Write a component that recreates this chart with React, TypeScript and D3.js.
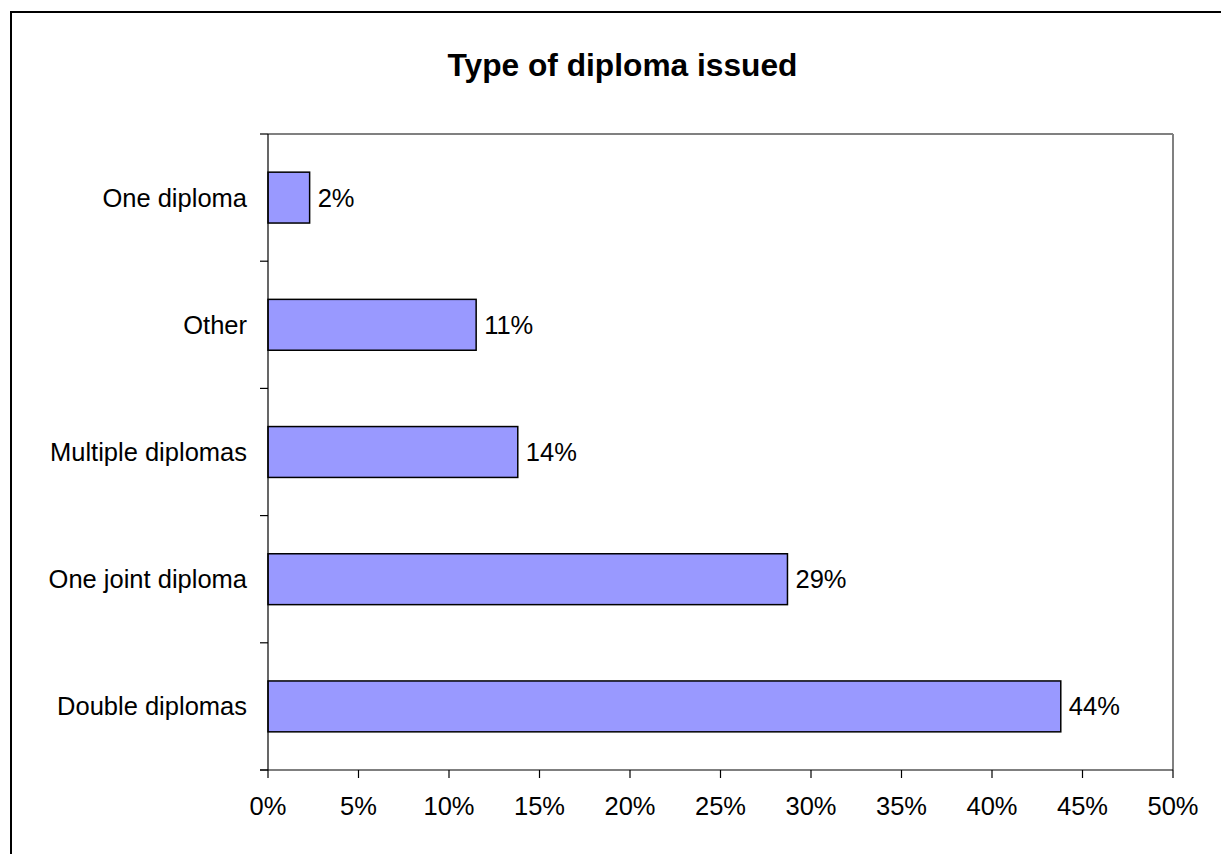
import React from "react";
import * as d3 from "d3";

const categories: string[] = ["One diploma", "Other", "Multiple diplomas", "One joint diploma", "Double diplomas"];
const values: number[] = [2.3, 11.5, 13.8, 28.7, 43.8];
const valueLabels: string[] = ["2%", "11%", "14%", "29%", "44%"];
const xTicks: number[] = [0, 5, 10, 15, 20, 25, 30, 35, 40, 45, 50];
const title = "Type of diploma issued";

export default function App() {
  const W = 1221, H = 854;
  const left = 268, right = 1173, top = 134, bottom = 770;
  const x = d3.scaleLinear().domain([0, 50]).range([left, right]);
  const y = d3.scaleBand<string>().domain(categories).range([top, bottom]).paddingInner(0.6).paddingOuter(0.3);
  const band = (bottom - top) / categories.length;
  const boundaries = d3.range(categories.length + 1).map((i) => top + i * band);
  const font = "Arial, 'Liberation Sans', sans-serif";
  const fs = 25.5;
  return (
    <svg width={W} height={H} style={{ position: "absolute", left: 0, top: 0, background: "#fff" }} fontFamily={font}>
      <rect x={11} y={12} width={1300} height={900} fill="#fff" stroke="#000" strokeWidth={2} />
      <text x={622.5} y={76} textAnchor="middle" fontSize={31.7} fontWeight="bold" fill="#000">{title}</text>
      <line x1={left} y1={top} x2={right} y2={top} stroke="#808080" strokeWidth={2} />
      <line x1={right} y1={top} x2={right} y2={bottom} stroke="#808080" strokeWidth={2} />
      {categories.map((c, i) => (
        <g key={c}>
          <rect x={x(0)} y={y(c)!} width={x(values[i]) - x(0)} height={y.bandwidth()} fill="#9999FF" stroke="#000" strokeWidth={1.5} />
          <text x={x(values[i]) + 8} y={y(c)! + y.bandwidth() / 2} dy="0.35em" fontSize={fs} fill="#000">{valueLabels[i]}</text>
          <text x={247} y={y(c)! + y.bandwidth() / 2} dy="0.35em" textAnchor="end" fontSize={fs} fill="#000">{c}</text>
        </g>
      ))}
      <line x1={left} y1={top} x2={left} y2={bottom} stroke="#000" strokeWidth={1.2} />
      <line x1={260} y1={bottom} x2={right} y2={bottom} stroke="#000" strokeWidth={1.2} />
      {boundaries.map((b, i) => (
        <line key={i} x1={260} y1={b} x2={left} y2={b} stroke="#000" strokeWidth={1.2} />
      ))}
      {xTicks.map((t) => (
        <g key={t}>
          <line x1={x(t)} y1={bottom} x2={x(t)} y2={bottom + 8} stroke="#000" strokeWidth={1.2} />
          <text x={x(t)} y={815} textAnchor="middle" fontSize={fs} fill="#000">{t + "%"}</text>
        </g>
      ))}
    </svg>
  );
}
